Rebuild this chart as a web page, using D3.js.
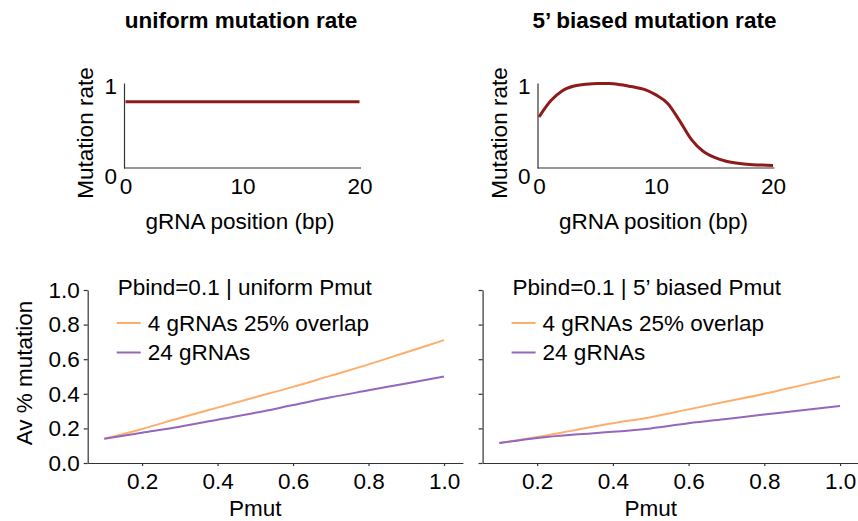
<!DOCTYPE html>
<html>
<head>
<meta charset="utf-8">
<script src="https://cdn.jsdelivr.net/npm/d3@7"></script>
<style>
  body { margin: 0; background: #fff; }
  svg text { font-family: "Liberation Sans", Arial, Helvetica, sans-serif; fill: #000; }
  .domain, .tick line { stroke: #333; stroke-width: 1.2; }
</style>
</head>
<body>
<svg width="858" height="521"></svg>
<script>
// top panels: mutation rate along the gRNA
const gRNAPos = [0, 1, 2, 3, 4, 5, 6, 7, 8, 9, 10, 11, 12, 13, 14, 15, 16, 17, 18, 19, 20];
const uniformRate = [0.78, 0.78, 0.78, 0.78, 0.78, 0.78, 0.78, 0.78, 0.78, 0.78, 0.78,
                     0.78, 0.78, 0.78, 0.78, 0.78, 0.78, 0.78, 0.78, 0.78, 0.78];
const biasedRate = [0.60, 0.79, 0.91, 0.965, 0.985, 0.995, 0.995, 0.98, 0.955, 0.925, 0.86,
                    0.76, 0.56, 0.34, 0.20, 0.125, 0.08, 0.055, 0.04, 0.035, 0.03];
const posTicks = [0, 10, 20];
const rateTicks = [0, 1];

// bottom panels: average % mutation vs Pmut
const pmut = [0.1, 0.2, 0.3, 0.4, 0.5, 0.6, 0.7, 0.8, 0.9, 1.0];
const uniform4 = [0.14, 0.197, 0.26, 0.32, 0.38, 0.44, 0.505, 0.57, 0.64, 0.71];
const uniform24 = [0.14, 0.175, 0.21, 0.25, 0.29, 0.335, 0.38, 0.42, 0.46, 0.50];
const biased4 = [0.115, 0.15, 0.19, 0.23, 0.265, 0.31, 0.355, 0.40, 0.45, 0.50];
const biased24 = [0.115, 0.145, 0.165, 0.18, 0.20, 0.23, 0.255, 0.28, 0.305, 0.33];
const pmutTicks = [0.2, 0.4, 0.6, 0.8, 1.0];
const avTicks = [0, 0.2, 0.4, 0.6, 0.8, 1.0];
const seriesNames = ['4 gRNAs 25% overlap', '24 gRNAs'];
const seriesColors = ['#fdae6b', '#9467bd'];

const svg = d3.select('svg');
const fontSize = 22.5;

function drawTop(left, title, values) {
  const g = svg.append('g');
  const xScale = d3.scaleLinear().domain([0, 20]).range([left + 1.5, left + 235.5]);
  const yScale = d3.scaleLinear().domain([0, 1]).range([168, 83]);

  g.append('text')
    .attr('x', left + 117)
    .attr('y', 28)
    .attr('text-anchor', 'middle')
    .attr('font-weight', 'bold')
    .attr('font-size', fontSize)
    .text(title);

  const xAxis = d3.axisBottom(xScale).tickValues(posTicks).tickSize(0).tickPadding(10);
  const xAxisG = g.append('g').attr('transform', 'translate(0,168)').call(xAxis);
  xAxisG.select('.domain').attr('d', `M${left},0H${left + 237}`);
  xAxisG.selectAll('text').attr('font-size', fontSize).attr('font-family', null);

  const yAxis = d3.axisLeft(yScale)
    .tickValues(rateTicks)
    .tickFormat(d3.format('d'))
    .tickSize(0).tickPadding(7);
  const yAxisG = g.append('g').attr('transform', `translate(${left},0)`).call(yAxis);
  yAxisG.selectAll('text')
    .attr('font-size', fontSize).attr('font-family', null)
    .attr('dy', d => d === 0 ? '0.68em' : '0.45em');

  g.append('text')
    .attr('transform', `translate(${left - 31},133) rotate(-90)`)
    .attr('text-anchor', 'middle')
    .attr('font-size', fontSize)
    .text('Mutation rate');

  g.append('text')
    .attr('x', left + 116)
    .attr('y', 229)
    .attr('text-anchor', 'middle')
    .attr('font-size', fontSize)
    .text('gRNA position (bp)');

  const lineGenerator = d3.line()
    .x((d, i) => xScale(gRNAPos[i]))
    .y(d => yScale(d))
    .curve(d3.curveMonotoneX);

  g.append('path')
    .attr('d', lineGenerator(values))
    .attr('fill', 'none')
    .attr('stroke', '#8e1b1b')
    .attr('stroke-width', 3);
}

function drawBottom(range, legendTitle, series, showYLabels) {
  const g = svg.append('g');
  const xScale = d3.scaleLinear().domain([0.056, 1.05]).range(range);
  const yScale = d3.scaleLinear().domain([0, 1]).range([463, 290]);

  const xAxis = d3.axisBottom(xScale)
    .tickValues(pmutTicks)
    .tickFormat(d3.format('.1f'))
    .tickSize(3).tickSizeOuter(0).tickPadding(7);
  const xAxisG = g.append('g').attr('transform', 'translate(0,463)').call(xAxis);
  xAxisG.selectAll('text').attr('font-size', fontSize).attr('font-family', null);

  const yAxis = d3.axisLeft(yScale)
    .tickValues(avTicks)
    .tickFormat(showYLabels ? d3.format('.1f') : '')
    .tickSize(4).tickSizeOuter(0).tickPadding(4);
  const yAxisG = g.append('g').attr('transform', `translate(${range[0]},0)`).call(yAxis);
  yAxisG.selectAll('text').attr('font-size', fontSize).attr('font-family', null);

  if (showYLabels) {
    g.append('text')
      .attr('transform', `translate(${range[0] - 56},373) rotate(-90)`)
      .attr('text-anchor', 'middle')
      .attr('font-size', fontSize)
      .text('Av % mutation');
  }

  g.append('text')
    .attr('x', xScale(0.5))
    .attr('y', 516)
    .attr('text-anchor', 'middle')
    .attr('font-size', fontSize)
    .text('Pmut');

  const lineGenerator = d3.line()
    .x((d, i) => xScale(pmut[i]))
    .y(d => yScale(d))
    .curve(d3.curveMonotoneX);

  series.forEach((values, i) => {
    g.append('path')
      .attr('d', lineGenerator(values))
      .attr('fill', 'none')
      .attr('stroke', seriesColors[i])
      .attr('stroke-width', 2);
  });

  // legend
  const lx = range[0] + 29;
  g.append('text')
    .attr('x', lx + 1)
    .attr('y', 287)
    .attr('dy', '0.35em')
    .attr('font-size', fontSize)
    .text(legendTitle);

  seriesNames.forEach((name, i) => {
    const ly = 323 + i * 29.5;
    g.append('line')
      .attr('x1', lx).attr('x2', lx + 24)
      .attr('y1', ly).attr('y2', ly)
      .attr('stroke', seriesColors[i])
      .attr('stroke-width', 2);
    g.append('text')
      .attr('x', lx + 31)
      .attr('y', ly)
      .attr('dy', '0.35em')
      .attr('font-size', fontSize)
      .text(name);
  });
}

drawTop(124, 'uniform mutation rate', uniformRate);
drawTop(537.5, '5\u2019 biased mutation rate', biasedRate);
drawBottom([87.7, 462.9], 'Pbind=0.1 | uniform Pmut', [uniform4, uniform24], true);
drawBottom([482.6, 859], 'Pbind=0.1 | 5\u2019 biased Pmut', [biased4, biased24], false);
</script>
</body>
</html>
